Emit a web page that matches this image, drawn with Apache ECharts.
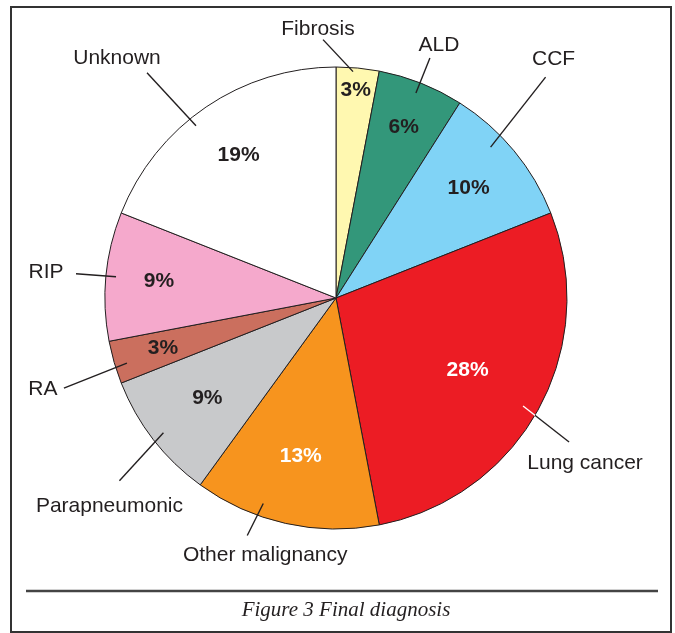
<!DOCTYPE html>
<html><head><meta charset="utf-8">
<script src="https://cdn.jsdelivr.net/npm/echarts@6/dist/echarts.min.js"></script>
<style>html,body{margin:0;padding:0;background:#fff}#c{width:675px;height:633px}</style>
</head><body><div id="c"></div>
<script>
// ---- data ----
const categories = ['Fibrosis', 'ALD', 'CCF', 'Lung cancer', 'Other malignancy', 'Parapneumonic', 'RA', 'RIP', 'Unknown'];
const values = [3, 6, 10, 28, 13, 9, 3, 9, 19];
const caption = 'Figure 3 Final diagnosis';

// ---- styles ----
const sliceColors = ['#fff8b0', '#33977a', '#80d3f6', '#ec1c24', '#f7941e', '#c8c9cb', '#cb6f5e', '#f5a9cc', '#ffffff'];
const pctColors = ['#231f20', '#231f20', '#231f20', '#ffffff', '#ffffff', '#231f20', '#231f20', '#231f20', '#231f20'];
const leaderInsideColors = ['#231f20', '#231f20', '#231f20', '#ffffff', '#231f20', '#231f20', '#231f20', '#231f20', '#231f20'];

// ---- layout ----
const CX = 336, CY = 298, R = 231;
const pctRadiusFrac = [0.905, 0.797, 0.745, 0.65, 0.70, 0.705, 0.78, 0.77, 0.75];
// leader: angle offset from slice middle, start radius, end offset (dx,dy), label centre offset from end
const leaders = [
  {dA: -1.1, r: 227, ex: -30, ey: -32, lx: -5, ly: -10},
  {dA: -0.3, r: 220, ex: 14, ey: -35, lx: 9, ly: -13},
  {dA: -4.7, r: 216, ex: 55, ey: -70, lx: 8, ly: -18},
  {dA: 1.2, r: 216, ex: 46, ey: 36, lx: 16, ly: 21},
  {dA: 6.9, r: 218, ex: -16, ey: 32, lx: 18, ly: 20},
  {dA: -0.2, r: 219, ex: -44, ey: 48, lx: -10, ly: 25},
  {dA: -1.1, r: 219, ex: -63, ey: 25, lx: -21, ly: 1},
  {dA: 0.1, r: 221, ex: -40, ey: -3, lx: -30, ly: -2},
  {dA: -4.9, r: 222, ex: -49, ey: -53, lx: -30, ly: -15}
];

const total = values.reduce((a, b) => a + b, 0);
const mids = [];
(function () { let acc = 0; values.forEach(v => { mids.push((acc + v / 2) / total * 360); acc += v; }); })();
function polar(ang, r) { const a = ang * Math.PI / 180; return [CX + r * Math.sin(a), CY - r * Math.cos(a)]; }

function leaderGeom(i) {
  const L = leaders[i];
  const s = polar(mids[i] + L.dA, L.r);
  const e = [s[0] + L.ex, s[1] + L.ey];
  return {s, e, label: [e[0] + L.lx, e[1] + L.ly]};
}
function leaderColor(i) {
  const {s, e} = leaderGeom(i);
  if (leaderInsideColors[i] === '#231f20') return '#231f20';
  const dx = e[0] - s[0], dy = e[1] - s[1], fx = s[0] - CX, fy = s[1] - CY;
  const a = dx * dx + dy * dy, b = 2 * (fx * dx + fy * dy), c = fx * fx + fy * fy - R * R;
  const t = (-b + Math.sqrt(b * b - 4 * a * c)) / (2 * a);
  return {type: 'linear', global: true, x: s[0], y: s[1], x2: e[0], y2: e[1], colorStops: [
    {offset: 0, color: leaderInsideColors[i]}, {offset: t, color: leaderInsideColors[i]},
    {offset: t, color: '#231f20'}, {offset: 1, color: '#231f20'}]};
}

const chart = echarts.init(document.getElementById('c'), null, {renderer: 'canvas'});
chart.setOption({
  animation: false,
  backgroundColor: '#ffffff',
  title: {
    text: caption, left: 341, top: 595, textAlign: 'center',
    textStyle: {fontFamily: 'Liberation Serif', fontStyle: 'italic', fontWeight: 'normal', fontSize: 21, color: '#231f20'}
  },
  graphic: [
    {type: 'rect', shape: {x: 11, y: 7, width: 660, height: 625}, style: {fill: 'none', stroke: '#333333', lineWidth: 2}, silent: true},
    {type: 'line', shape: {x1: 26, y1: 591, x2: 658, y2: 591}, style: {stroke: '#444444', lineWidth: 2.5}, silent: true}
  ],
  series: [
    {
      type: 'pie', z: 2, center: [CX, CY], radius: R, startAngle: 90, clockwise: true,
      silent: true, avoidLabelOverlap: false,
      emphasis: {disabled: true},
      itemStyle: {borderColor: '#231f20', borderWidth: 1},
      data: categories.map((n, i) => ({name: n, value: values[i], itemStyle: {color: sliceColors[i]}, label: {color: pctColors[i]}})),
      label: {show: true, position: 'inside', formatter: p => p.value + '%',
        fontFamily: 'Liberation Sans', fontWeight: 'bold', fontSize: 21},
      labelLine: {show: false},
      labelLayout: p => {
        const i = p.dataIndex;
        const [x, y] = polar(mids[i], R * pctRadiusFrac[i]);
        return {x, y, align: 'center', verticalAlign: 'middle'};
      }
    },
    {
      type: 'pie', z: 5, center: [CX, CY], radius: R, startAngle: 90, clockwise: true,
      silent: true, avoidLabelOverlap: false,
      emphasis: {disabled: true},
      itemStyle: {color: 'rgba(0,0,0,0)', borderWidth: 0},
      data: categories.map((n, i) => ({name: n, value: values[i], labelLine: {lineStyle: {color: leaderColor(i)}}})),
      label: {show: true, position: 'outside', formatter: '{b}',
        fontFamily: 'Liberation Sans', fontSize: 21, color: '#231f20'},
      labelLine: {show: true, length: 10, length2: 10, lineStyle: {color: '#231f20', width: 1.4}},
      labelLayout: p => {
        const g = leaderGeom(p.dataIndex);
        return {x: g.label[0], y: g.label[1], align: 'center', verticalAlign: 'middle',
          labelLinePoints: [g.s, g.e]};
      }
    }
  ]
});
</script>
</body></html>
